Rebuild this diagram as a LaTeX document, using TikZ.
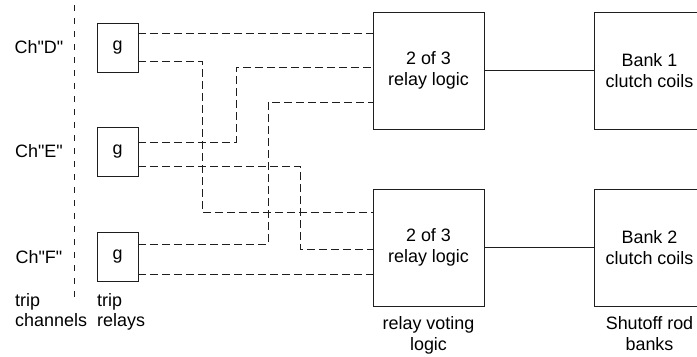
\documentclass[tikz,border=0pt]{standalone}
\usepackage{fontspec}
\setmainfont{Liberation Sans}
\usepackage{tikz}
\usetikzlibrary{positioning}
\definecolor{linecolor}{RGB}{30,30,30}
\tikzstyle{relay} = [rectangle, draw=linecolor, line width=0.8bp, minimum width=41bp, minimum height=49bp, inner sep=0pt]
\tikzstyle{logic} = [rectangle, draw=linecolor, line width=0.8bp, minimum width=111bp, minimum height=117bp, align=center]
\tikzstyle{note} = [align=center, inner sep=0pt]
\tikzstyle{sig} = [draw=linecolor, line width=0.8bp, dash pattern=on 8bp off 4bp]
\tikzstyle{chan} = [draw=linecolor, line width=0.8bp, dash pattern=on 6bp off 7bp]
\tikzstyle{link} = [draw=linecolor, line width=0.8bp]

\begin{document}
\begin{tikzpicture}[x=1bp, y=-1bp, every node/.style={font=\fontsize{18}{20.5}\selectfont}]
\useasboundingbox (0,0) rectangle (697,356);

% Channels
\node (chD) at (39,47.5) {Ch\textquotedbl D\textquotedbl};
\node (chE) at (39,151.5) {Ch\textquotedbl E\textquotedbl};
\node (chF) at (39,257) {Ch\textquotedbl F\textquotedbl};
\coordinate (chtop) at (74,5);
\coordinate (chbot) at (74,300);
\draw [chan] (chtop) -- (chbot);
\node (tripch) [note, align=left, anchor=north west] at (15,293) {trip\\channels};

% Trip relays
\node (rD) [relay] at (117.5,47.5) {g};
\node (rE) [relay] at (117.5,151.5) {g};
\node (rF) [relay] at (117.5,256.5) {g};
\node (tripre) [note, align=left, anchor=north west] at (97,293) {trip\\relays};

% Voting logic
\node (vote1) [logic] at (428.5,70.5) {2 of 3\\relay logic};
\node (vote2) [logic] at (428.5,247.5) {2 of 3\\relay logic};
\node (votenote) [note, below=10bp of vote2] {relay voting\\logic};

% Rod banks
\node (bank1) [logic] at (649.5,70.5) {Bank 1\\clutch coils};
\node (bank2) [logic] at (649.5,247.5) {Bank 2\\clutch coils};
\node (banknote) [note, below=10bp of bank2] {Shutoff rod\\banks};

% Signals
\draw [sig] (rD.east |- 0,33) -- (vote1.west |- 0,33);
\draw [sig] (rD.east |- 0,61) -| (202,212) -- (vote2.west |- 0,212);
\draw [sig] (rE.east |- 0,142) -| (236,67) -- (vote1.west |- 0,67);
\draw [sig] (rE.east |- 0,166) -| (300,249) -- (vote2.west |- 0,249);
\draw [sig] (rF.east |- 0,244) -| (268,102) -- (vote1.west |- 0,102);
\draw [sig] (rF.east |- 0,274) -- (vote2.west |- 0,274);

% Links
\draw [link] (vote1) -- (bank1);
\draw [link] (vote2) -- (bank2);

\end{tikzpicture}
\end{document}
